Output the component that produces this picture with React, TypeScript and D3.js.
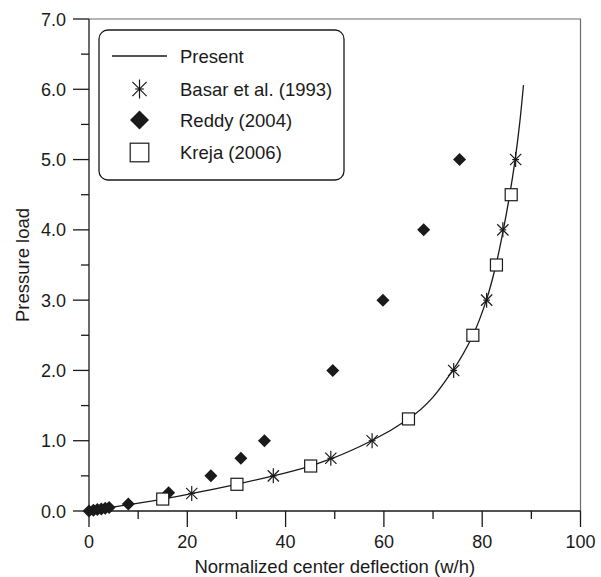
import { scaleLinear, line, curveMonotoneY, range } from "d3";

const width = 601;
const height = 577;

// Present (line)
const presentW = [0, 8, 15, 21, 30, 37.5, 45, 49.5, 57.5, 65, 74, 78.1, 80.85, 82.8, 84.3, 85.6, 86.7, 87.6, 88.4];
const presentP = [0, 0.09, 0.17, 0.25, 0.38, 0.5, 0.64, 0.75, 1.0, 1.31, 2.0, 2.5, 3.0, 3.5, 4.0, 4.5, 5.0, 5.5, 6.06];

// Basar et al. (1993)
const basarW = [20.9, 37.5, 49.2, 57.6, 74.2, 80.9, 84.2, 86.8];
const basarP = [0.25, 0.5, 0.75, 1.0, 2.0, 3.0, 4.0, 5.0];

// Reddy (2004)
const reddyW = [0, 0.9, 1.7, 2.5, 3.3, 4.1, 8.0, 16.2, 24.8, 30.9, 35.7, 49.6, 59.8, 68.1, 75.4];
const reddyP = [0, 0.01, 0.02, 0.03, 0.04, 0.05, 0.1, 0.26, 0.5, 0.75, 1.0, 2.0, 3.0, 4.0, 5.0];

// Kreja (2006)
const krejaW = [15.0, 30.1, 45.1, 65.0, 78.1, 82.9, 85.9];
const krejaP = [0.17, 0.38, 0.64, 1.31, 2.5, 3.5, 4.5];

const legendLabels = ["Present", "Basar et al. (1993)", "Reddy (2004)", "Kreja (2006)"];

const font = "'Liberation Sans', Arial, Helvetica, sans-serif";
const ink = "#1a1a1a";

function Asterisk({ x, y, r }: { x: number; y: number; r: number }) {
  const d = r * 0.75;
  return (
    <g stroke={ink} strokeWidth={1.2}>
      <line x1={x} y1={y - r} x2={x} y2={y + r} />
      <line x1={x - d} y1={y - d} x2={x + d} y2={y + d} />
      <line x1={x - d} y1={y + d} x2={x + d} y2={y - d} />
      <line x1={x - r * 0.45} y1={y} x2={x + r * 0.45} y2={y} />
    </g>
  );
}

function Diamond({ x, y, r }: { x: number; y: number; r: number }) {
  return <path d={`M${x},${y - r}L${x + r},${y}L${x},${y + r}L${x - r},${y}Z`} fill={ink} />;
}

function Square({ x, y, r }: { x: number; y: number; r: number }) {
  return <rect x={x - r} y={y - r} width={2 * r} height={2 * r} fill="white" stroke={ink} strokeWidth={1.2} />;
}

export default function App() {
  const x = scaleLinear().domain([0, 100]).range([89, 580.5]);
  const y = scaleLinear().domain([0, 7]).range([511, 19]);

  const curve = line<number>()
    .x((_, i) => x(presentW[i]))
    .y((_, i) => y(presentP[i]))
    .curve(curveMonotoneY);

  const xMajor = range(0, 101, 20);
  const xMinor = range(10, 100, 20);
  const yMajor = range(0, 7.01, 1);
  const yMinor = range(0.5, 7, 1);

  const lx = 99, ly = 30, lw = 245, lh = 150;
  const rows = [56, 89, 120, 152.5];

  return (
    <svg width={width} height={height} style={{ position: "absolute", left: 0, top: 0, background: "white" }} fontFamily={font}>
      {/* frame top/right */}
      <path d={`M${x(0)},${y(7)}H${x(100)}V${y(0)}`} fill="none" stroke="#6a6a6a" strokeWidth={1.2} />

      {/* x axis */}
      <line x1={x(0)} x2={x(100)} y1={y(0)} y2={y(0)} stroke={ink} strokeWidth={1.3} />
      {xMajor.map((t) => (
        <g key={"xm" + t}>
          <line x1={x(t)} x2={x(t)} y1={y(0)} y2={y(0) + 16} stroke={ink} strokeWidth={1.3} />
          <text x={x(t)} y={548} textAnchor="middle" fontSize={18} fill={ink}>{t}</text>
        </g>
      ))}
      {xMinor.map((t) => (
        <line key={"xn" + t} x1={x(t)} x2={x(t)} y1={y(0)} y2={y(0) + 8} stroke={ink} strokeWidth={1.3} />
      ))}
      <text x={(x(0) + x(100)) / 2} y={573} textAnchor="middle" fontSize={18.5} fill={ink}>
        Normalized center deflection (w/h)
      </text>

      {/* y axis */}
      <line x1={x(0)} x2={x(0)} y1={y(0)} y2={y(7)} stroke={ink} strokeWidth={1.3} />
      {yMajor.map((t) => (
        <g key={"ym" + t}>
          <line x1={x(0) - 16} x2={x(0)} y1={y(t)} y2={y(t)} stroke={ink} strokeWidth={1.3} />
          <text x={66} y={y(t) + 6.5} textAnchor="end" fontSize={18} fill={ink}>{t.toFixed(1)}</text>
        </g>
      ))}
      {yMinor.map((t) => (
        <line key={"yn" + t} x1={x(0) - 8} x2={x(0)} y1={y(t)} y2={y(t)} stroke={ink} strokeWidth={1.3} />
      ))}
      <text transform={`translate(29,${(y(0) + y(7)) / 2}) rotate(-90)`} textAnchor="middle" fontSize={18.5} fill={ink}>
        Pressure load
      </text>

      {/* present curve */}
      <path d={curve(presentW) ?? ""} fill="none" stroke={ink} strokeWidth={1.3} />

      {/* markers */}
      {reddyW.map((w, i) => <Diamond key={"r" + i} x={x(w)} y={y(reddyP[i])} r={6.5} />)}
      {krejaW.map((w, i) => <Square key={"k" + i} x={x(w)} y={y(krejaP[i])} r={6} />)}
      {basarW.map((w, i) => <Asterisk key={"b" + i} x={x(w)} y={y(basarP[i])} r={7.5} />)}

      {/* legend */}
      <rect x={lx} y={ly} width={lw} height={lh} rx={9} fill="white" stroke={ink} strokeWidth={1.3} />
      <line x1={112} x2={167} y1={rows[0]} y2={rows[0]} stroke={ink} strokeWidth={1.3} />
      <Asterisk x={139.5} y={rows[1]} r={9.5} />
      <Diamond x={139.5} y={rows[2]} r={9.5} />
      <Square x={139.5} y={rows[3]} r={9.3} />
      {legendLabels.map((l, i) => (
        <text key={l} x={180} y={rows[i] + 6.8} fontSize={18.5} fill={ink}>{l}</text>
      ))}
    </svg>
  );
}
